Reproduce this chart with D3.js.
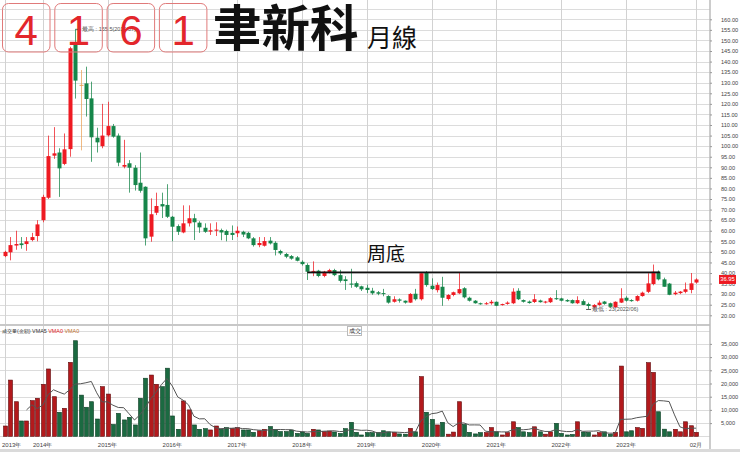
<!DOCTYPE html>
<html><head><meta charset="utf-8">
<script src="https://cdn.jsdelivr.net/npm/d3@7/dist/d3.min.js"></script>
<style>body{margin:0;background:#fff}svg{display:block}</style>
</head><body><svg id="c" width="740" height="452"></svg>
<script>
// ---- data (monthly candles, Jun 2013 .. Feb 2024) ----
const firstYear = 2013, firstMonth = 6;
const openP  = [48,49.8,53,54,53.7,55.6,57.5,65,75.6,95.5,97,91.6,98.6,148.3,129,129.7,122.6,104,100,105.1,109.5,105,90.3,91.9,89.8,82.7,80.8,57.2,68.5,72.6,72.2,66.6,62.2,59.2,63.5,65.9,63.8,61.4,59.6,60,60.3,59.9,59,58.8,59.5,59,56.4,53.2,52.9,55.3,54.3,50.4,49,48,47.4,45.3,43.8,40.6,41.1,38.6,40.3,41.4,39,37,35,35.2,33.7,33,31.6,30.9,30.5,29.1,26.4,27.5,26.9,26,30.2,27.6,40.1,34,31.9,33.5,27.7,29.6,30.4,32.8,28.3,26.9,25.7,25.3,25.7,26.4,24.9,25.4,25.7,31.6,27.2,26.5,26.3,27,26.1,26.2,28.1,28,27.2,27.2,25.7,26.7,25.3,23.8,24.9,26.5,25.7,23.8,26,28.3,27.2,26.9,29.1,31.1,34.8,40.6,37,35,30,30.5,31.1,32,35.5];
const highP  = [50.5,57,60,57,57,59,65,77,105,109,99,106,147,155.5,136,137.6,130.5,108.7,120,121,110.5,106,103,93.4,91,97,81,75.3,78,78,82,67,63,72,72,68,64.5,63.5,63.5,64,61,60.5,62.5,62,60,59.5,57,57,57,57,55,51,49.5,48.5,48,46,44.6,45.5,41.5,41,42,42,41.5,38.5,42,36,34,34.5,33,31.5,32.5,29.5,29,28,27,30.5,32.5,40.3,40.9,37.5,35.5,38.2,30,31.2,40.3,33.3,28.8,27.2,26,26.3,27.2,26.5,25.5,26.6,32.8,32.8,27.5,27,30,27.4,26.8,28.6,31.9,28.3,27.6,27.5,29,27.5,26,25.3,27,26.8,26,26.6,32.8,29,27.6,29.5,31.2,39.9,44,41.2,37.8,35.3,31.5,31.5,35.5,40,37.5];
const lowP   = [47.5,46,51,51.5,50.5,55,55,64,75,94,76,91,95,122.5,98,114,92.6,97,99,104.5,104,90.5,89.5,78,79,78,53,54.8,67.4,66,66,55,58,58.8,62,55.6,59,59,58,57.5,55.5,55,55.6,57,57,56,52.5,52.2,52.5,53.5,48.3,48.5,47,46.3,45.5,43.5,36.7,38.5,38,38,39.8,38.5,35.5,32,33,33,31.5,30.5,29.7,29.5,29,25.5,26,26,25.5,25.8,27,27,33.5,32,30.8,24.5,27,29,30,28,26.5,25.5,25,25,25,24.3,24.6,25,25.3,27.2,26,25.5,25.8,26,25.6,25.8,27.3,26.6,26.3,25.5,25.3,24.8,23,23.3,24.5,25,23.6,23.5,25.8,26.5,26.4,26.5,28.8,30.5,34.2,36.5,33.5,29.5,29.5,30,30.4,30.4,35];
const closeP = [50,53.2,53.7,53.2,55,57,63,76,95.3,96.6,89.5,98.5,146.3,131,129,122.3,104.2,101.8,105,109.5,104.5,92.2,91.1,89.8,81.6,78.9,56.4,67.8,71.7,71.5,66.6,61.9,59.5,63.5,65.9,64,61.6,59.5,60.2,60.5,59.2,58,58,60,58.2,56.4,53.2,54.2,55.1,54,50.9,49.3,47.7,46.8,45.8,44.2,40.6,41,38.6,40.6,41.4,39,36.3,36.2,34.5,33.5,32.3,32,30.4,30.2,30.1,26,27.6,26.9,26,30.1,27.6,39.9,34.3,32.4,34.3,28.3,29.6,30.9,32.4,28.5,26.9,25.7,25.2,25.7,26.4,24.5,25.3,26,31.2,27.6,26.4,25.8,27.6,26.2,26.5,28.1,27.6,26.9,26.6,25.7,27.2,24.9,24.4,24.9,26,25.4,24,26.4,28,26.9,26.7,29.1,30.7,35.1,40.6,37,33.5,29.7,30.7,31.2,32.3,35.1,36.95];
const volume = [3900,21300,13100,5800,5800,13500,14400,19700,25500,15000,9100,10600,28000,36200,15600,11000,13100,6550,18800,16000,4500,8700,6200,7200,4300,14400,22000,23200,19700,18800,25800,7700,2650,13400,10000,4300,2650,2900,2400,3900,2650,3300,3000,3300,2400,2400,1500,2100,2650,3700,2650,1800,1800,2400,1100,1650,1100,2650,2400,1800,2000,1650,1100,2900,5300,1500,500,1400,1400,1400,2100,1700,1500,900,800,3000,1700,22600,9100,6400,4300,5300,800,1600,13100,4500,1500,900,1400,1400,3300,1700,500,1400,5500,3300,1700,1400,3600,1700,800,1700,4900,1100,500,700,5500,1600,1500,500,1400,1700,800,1500,26600,1700,2100,3300,3000,27900,24200,9300,2700,1700,2650,1700,5500,4000,1500];
const priceTicks = d3.range(20, 160.01, 5);
const volTicks = [5000,10000,15000,20000,25000,30000,35000];
const titleDigits = ["4","1","6","1"];
const titleName = "聿新科", titleSuffix = "月線";
const lastPrice = 36.95;
const highNote = "最高 : 155.5(2014/07)", highIdx = 13;
const lowNote = "最低 : 23(2022/06)", lowIdx = 108;
const baseLine = {label: "周底", level: 40.3, from: 56, to: 121.3};

// ---- scales ----
const svg = d3.select("#c");
const n = closeP.length;
const x = d3.scaleLinear().domain([7, 128]).range([42.7, 696.1]);
const y = d3.scaleLinear().domain([20, 160]).range([315.3, 19.3]);
const yv = d3.scaleLinear().domain([0, 35000]).range([436.3, 343.9]);
const axisX = 709.5;
const RED = "#ee1a22", GREEN = "#16864a", DOJI = "#eba35a";
const fs = "Arial, 'Liberation Sans', sans-serif";

// ---- grids ----
const g = svg.append("g");
g.selectAll(".hg").data(d3.range(20, 165.01, 5)).join("line")
  .attr("x1", 0).attr("x2", axisX).attr("y1", d => Math.round(y(d)) + 0.5).attr("y2", d => Math.round(y(d)) + 0.5)
  .attr("stroke", "#dcdcdc").attr("stroke-width", 1);
g.selectAll(".vg").data([0,5000,10000,15000,20000,25000,30000,35000,40000]).join("line")
  .attr("x1", 0).attr("x2", axisX).attr("y1", d => Math.round(yv(d)) + 0.5).attr("y2", d => Math.round(yv(d)) + 0.5)
  .attr("stroke", "#dcdcdc");
const months = d3.range(n).map(i => {
  const t = firstMonth - 1 + i; return {y: firstYear + Math.floor(t / 12), m: t % 12 + 1};
});
const vTicks = [];
months.forEach((d, i) => {
  if (i === 0) vTicks.push({i, label: d.y + "年", anchor: "start"});
  else if (i === n - 1) vTicks.push({i, label: String(d.m).padStart(2, "0") + "月", anchor: "middle"});
  else if (d.m === 1 && i < n - 3) vTicks.push({i, label: d.y + "年", anchor: "middle"});
});
g.selectAll(".vl").data(vTicks).join("line")
  .attr("x1", d => Math.round(x(d.i)) + 0.5).attr("x2", d => Math.round(x(d.i)) + 0.5)
  .attr("y1", 0).attr("y2", 437).attr("stroke", "#d2d2d2");

svg.append("rect").attr("x", 0).attr("y", 324).attr("width", axisX).attr("height", 2).attr("fill", "#c8c8c8");
svg.append("rect").attr("x", 0).attr("y", 449).attr("width", 740).attr("height", 3).attr("fill", "#dadada");

// ---- candles ----
const cw = 4;
const cg = svg.append("g");
const col = i => closeP[i] > openP[i] ? RED : (closeP[i] < openP[i] ? GREEN : DOJI);
cg.selectAll(".wick").data(d3.range(n)).join("line")
  .attr("x1", i => Math.round(x(i)) + 0.5).attr("x2", i => Math.round(x(i)) + 0.5)
  .attr("y1", i => y(highP[i])).attr("y2", i => y(lowP[i]))
  .attr("stroke", col).attr("stroke-width", 1).attr("stroke-opacity", 0.75);
cg.selectAll(".body").data(d3.range(n)).join("rect")
  .attr("x", i => Math.round(x(i)) + 0.5 - cw / 2)
  .attr("width", cw)
  .attr("y", i => y(Math.max(openP[i], closeP[i])))
  .attr("height", i => Math.max(1, Math.abs(y(openP[i]) - y(closeP[i]))))
  .attr("fill", col);

// high / low notes
svg.append("line").attr("x1", x(highIdx) + 1).attr("x2", x(highIdx) + 6)
  .attr("y1", y(highP[highIdx]) + 0.5).attr("y2", y(highP[highIdx]) + 0.5).attr("stroke", "#555");
svg.append("text").attr("x", x(highIdx) + 7).attr("y", y(highP[highIdx]) + 2)
  .attr("font-size", 5.5).attr("font-family", fs).attr("fill", "#555").text(highNote);
svg.append("line").attr("x1", x(lowIdx) - 2).attr("x2", x(lowIdx) + 3)
  .attr("y1", y(lowP[lowIdx]) + 0.5).attr("y2", y(lowP[lowIdx]) + 0.5).attr("stroke", "#555");
svg.append("text").attr("x", x(lowIdx) + 4).attr("y", y(lowP[lowIdx]) + 2.5)
  .attr("font-size", 5.5).attr("font-family", fs).attr("fill", "#555").text(lowNote);

// base line + label
svg.append("line").attr("x1", x(baseLine.from)).attr("x2", x(baseLine.to))
  .attr("y1", y(baseLine.level)).attr("y2", y(baseLine.level))
  .attr("stroke", "#111").attr("stroke-width", 1.6);
svg.append("text").attr("x", 367).attr("y", 261)
  .attr("font-family", "'Noto Sans CJK TC', sans-serif").attr("font-size", 19).attr("fill", "#111").text(baseLine.label);

// ---- volume ----
const vcol = i => (i === 0 ? closeP[i] >= openP[i] : closeP[i] >= closeP[i - 1]);
svg.append("g").selectAll("rect").data(d3.range(n)).join("rect")
  .attr("x", i => Math.round(x(i)) + 0.5 - 2)
  .attr("width", 4)
  .attr("y", i => yv(volume[i]))
  .attr("height", i => yv(0) - yv(volume[i]))
  .attr("fill", i => vcol(i) ? "#b3191c" : "#1b6a41")
  .attr("stroke", i => vcol(i) ? "#5e0b0d" : "#0d3c23").attr("stroke-width", 0.6);
const ma = d3.range(4, n).map(i => ({i, v: d3.mean(volume.slice(i - 4, i + 1))}));
svg.append("path").datum(ma)
  .attr("d", d3.line().x(d => x(d.i)).y(d => yv(d.v)))
  .attr("fill", "none").attr("stroke", "#555").attr("stroke-width", 1);

const vh = svg.append("text").attr("x", 2).attr("y", 333).attr("font-size", 5.4).attr("font-family", fs);
vh.append("tspan").attr("fill", "#333").text("成交量(金額) VMA5 ");
vh.append("tspan").attr("fill", "#e02020").text("VMA0 ");
vh.append("tspan").attr("fill", "#c07030").text("VMA0");
svg.append("rect").attr("x", 347.5).attr("y", 326.5).attr("width", 14).attr("height", 9)
  .attr("fill", "#fff").attr("stroke", "#bbb");
svg.append("text").attr("x", 354.5).attr("y", 333).attr("text-anchor", "middle")
  .attr("font-size", 5.5).attr("font-family", fs).attr("fill", "#333").text("成交");

// ---- right axis ----
svg.append("line").attr("x1", axisX + 0.5).attr("x2", axisX + 0.5).attr("y1", 0).attr("y2", 449).attr("stroke", "#999");
const styleAxis = s => {
  s.select(".domain").remove();
  s.selectAll("text").attr("font-size", 5.6).attr("font-family", fs).attr("fill", "#444");
  s.selectAll("line").attr("stroke", "#999");
};
svg.append("g").attr("transform", `translate(${axisX + 0.5},0)`)
  .call(d3.axisRight(y).tickValues(priceTicks).tickFormat(d3.format(".2f")).tickSize(2).tickPadding(9)).call(styleAxis);
svg.append("g").attr("transform", `translate(${axisX + 0.5},0)`)
  .call(d3.axisRight(yv).tickValues(volTicks).tickFormat(d3.format(",")).tickSize(2).tickPadding(9)).call(styleAxis);
svg.append("rect").attr("x", 719).attr("y", y(lastPrice) - 4.5).attr("width", 17).attr("height", 9).attr("fill", "#ee1a22");
svg.append("text").attr("x", 727.5).attr("y", y(lastPrice) + 2).attr("text-anchor", "middle")
  .attr("font-size", 5.8).attr("font-family", fs).attr("fill", "#fff").text(d3.format(".2f")(lastPrice));

// ---- x labels ----
svg.append("g").selectAll("text").data(vTicks).join("text")
  .attr("x", d => d.anchor === "start" ? 2 : x(d.i)).attr("y", 447)
  .attr("text-anchor", d => d.anchor)
  .attr("font-size", 6).attr("font-family", fs).attr("fill", "#444").text(d => d.label);

// ---- title ----
const tg = svg.append("g");
titleDigits.forEach((d, k) => {
  const bx = 2.5 + k * 52.3;
  tg.append("rect").attr("x", bx).attr("y", 3.5).attr("width", 47.5).attr("height", 48.5)
    .attr("rx", 6).attr("fill", "none").attr("stroke", "#e07a7a").attr("stroke-width", 1);
  tg.append("text").attr("x", bx + 23.75).attr("y", 45).attr("text-anchor", "middle")
    .attr("font-size", 42).attr("font-family", fs).attr("fill", "#e3262b").text(d);
});
tg.append("text").attr("x", 213).attr("y", 45.5).attr("font-size", 48.5).attr("font-weight", 700)
  .attr("font-family", "'Noto Sans CJK TC', sans-serif").attr("fill", "#111").text(titleName);
tg.append("text").attr("x", 367).attr("y", 47).attr("font-size", 25)
  .attr("font-family", "'Noto Sans CJK TC', sans-serif").attr("fill", "#111").text(titleSuffix);
</script></body></html>
